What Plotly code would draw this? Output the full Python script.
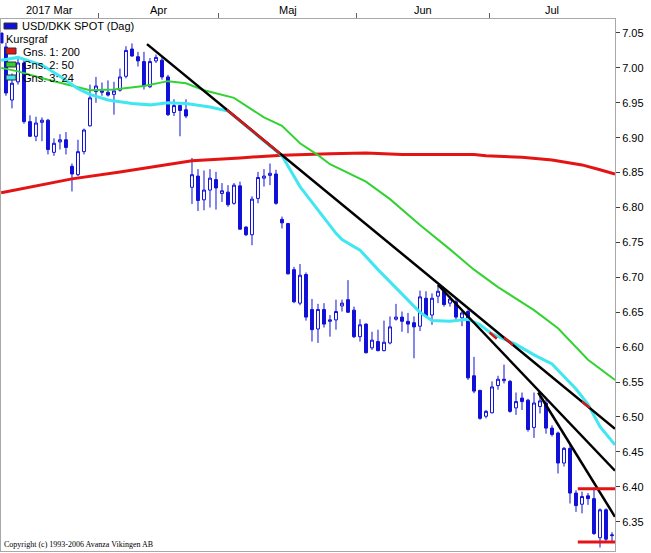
import plotly.graph_objects as go

# daily candles, USD/DKK spot (weekday index 0..101)
opens = [7.030, 6.954, 6.980, 7.007, 6.923, 6.902, 6.922, 6.925, 6.879, 6.894,
         6.897, 6.859, 6.847, 6.880, 6.917, 6.966, 6.965, 6.965, 6.962, 6.968,
         6.988, 7.027, 7.016, 7.009, 6.973, 7.010, 7.011, 6.987, 6.936, 6.946,
         6.940, 6.829, 6.845, 6.811, 6.825, 6.840, 6.820, 6.822, 6.806, 6.831,
         6.772, 6.761, 6.813, 6.842, 6.846, 6.848, 6.783, 6.777, 6.711, 6.663,
         6.704, 6.654, 6.626, 6.654, 6.637, 6.639, 6.659, 6.668, 6.653, 6.615,
         6.633, 6.599, 6.608, 6.595, 6.606, 6.640, 6.643, 6.637, 6.635, 6.630,
         6.670, 6.646, 6.673, 6.680, 6.663, 6.665, 6.642, 6.651, 6.559, 6.538,
         6.501, 6.506, 6.545, 6.552, 6.551, 6.513, 6.527, 6.524, 6.485, 6.515,
         6.520, 6.484, 6.477, 6.434, 6.455, 6.391, 6.375, 6.387, 6.383, 6.327,
         6.367, 6.330]
highs = [7.036, 6.992, 7.014, 7.012, 6.932, 6.930, 6.929, 6.927, 6.899, 6.905,
         6.908, 6.863, 6.897, 6.913, 6.976, 6.987, 6.979, 6.982, 6.980, 6.999,
         7.031, 7.035, 7.023, 7.023, 7.014, 7.019, 7.016, 6.990, 6.955, 6.947,
         6.955, 6.871, 6.855, 6.853, 6.855, 6.851, 6.835, 6.832, 6.835, 6.837,
         6.773, 6.816, 6.851, 6.855, 6.863, 6.854, 6.787, 6.778, 6.715, 6.719,
         6.707, 6.669, 6.662, 6.663, 6.646, 6.668, 6.668, 6.696, 6.658, 6.640,
         6.634, 6.622, 6.625, 6.638, 6.644, 6.662, 6.651, 6.649, 6.644, 6.681,
         6.680, 6.677, 6.689, 6.685, 6.673, 6.670, 6.654, 6.654, 6.586, 6.539,
         6.510, 6.551, 6.559, 6.575, 6.553, 6.535, 6.535, 6.526, 6.535, 6.532,
         6.525, 6.488, 6.479, 6.457, 6.462, 6.395, 6.393, 6.391, 6.399, 6.369,
         6.369, 6.335]
lows = [6.960, 6.942, 6.976, 6.920, 6.901, 6.895, 6.895, 6.876, 6.874, 6.883,
        6.876, 6.823, 6.845, 6.876, 6.916, 6.950, 6.960, 6.959, 6.933, 6.966,
        6.985, 7.016, 7.002, 6.969, 6.971, 7.007, 6.983, 6.931, 6.931, 6.902,
        6.928, 6.805, 6.795, 6.796, 6.800, 6.797, 6.808, 6.801, 6.804, 6.768,
        6.759, 6.746, 6.806, 6.830, 6.832, 6.804, 6.770, 6.704, 6.663, 6.660,
        6.638, 6.608, 6.606, 6.628, 6.615, 6.625, 6.651, 6.649, 6.613, 6.608,
        6.591, 6.596, 6.594, 6.594, 6.604, 6.638, 6.622, 6.620, 6.584, 6.623,
        6.642, 6.632, 6.663, 6.658, 6.658, 6.637, 6.630, 6.553, 6.534, 6.496,
        6.498, 6.505, 6.539, 6.548, 6.506, 6.503, 6.510, 6.479, 6.470, 6.505,
        6.476, 6.472, 6.419, 6.429, 6.376, 6.364, 6.362, 6.374, 6.331, 6.313,
        6.321, 6.321]
closes = [6.964, 6.978, 7.007, 6.923, 6.902, 6.921, 6.925, 6.883, 6.892, 6.897,
          6.886, 6.848, 6.880, 6.911, 6.957, 6.974, 6.967, 6.961, 6.967, 6.987,
          7.025, 7.017, 7.010, 6.974, 7.009, 7.015, 6.987, 6.933, 6.946, 6.939,
          6.931, 6.847, 6.810, 6.825, 6.842, 6.828, 6.824, 6.804, 6.832, 6.769,
          6.761, 6.812, 6.843, 6.845, 6.849, 6.806, 6.778, 6.705, 6.665, 6.703,
          6.643, 6.625, 6.654, 6.633, 6.639, 6.651, 6.663, 6.650, 6.615, 6.632,
          6.592, 6.610, 6.595, 6.607, 6.629, 6.643, 6.637, 6.633, 6.629, 6.672,
          6.644, 6.670, 6.680, 6.661, 6.669, 6.643, 6.649, 6.556, 6.537, 6.498,
          6.508, 6.543, 6.554, 6.554, 6.508, 6.522, 6.522, 6.482, 6.520, 6.523,
          6.484, 6.475, 6.434, 6.455, 6.391, 6.373, 6.386, 6.383, 6.333, 6.367,
          6.325, 6.331]
days = list(range(len(closes)))

# moving averages (x = day index)
ma200_x = [-0.8, 11, 19, 29, 31, 39, 46, 54, 60, 66, 78, 80, 86, 91, 96, 99, 101.5]
ma200_y = [6.821, 6.841, 6.851, 6.864, 6.867, 6.871, 6.875, 6.877, 6.878, 6.876,
           6.876, 6.874, 6.872, 6.868, 6.861, 6.854, 6.848]
ma50_x = [-0.8, 2, 7, 14, 18, 23, 27, 30, 33, 36, 38, 43, 46, 49, 52, 54, 60, 64,
          69, 74, 78, 82, 88, 92, 97, 101.5]
ma50_y = [7.000, 6.995, 6.983, 6.968, 6.969, 6.974, 6.981, 6.978, 6.968, 6.961,
          6.957, 6.929, 6.917, 6.892, 6.875, 6.862, 6.837, 6.812, 6.775, 6.740,
          6.711, 6.686, 6.653, 6.627, 6.582, 6.553]
ma24_x = [-0.8, 2, 6, 9, 12, 14, 17, 21, 24, 27, 30, 34, 37, 40, 43, 46, 49, 52,
          55, 56, 59, 62, 65, 67, 69, 71, 74, 77, 79, 81, 85, 88, 91, 95, 97, 99, 101.5]
ma24_y = [7.011, 7.015, 7.004, 6.988, 6.970, 6.962, 6.954, 6.949, 6.947, 6.950,
          6.949, 6.944, 6.938, 6.917, 6.896, 6.874, 6.830, 6.797, 6.763, 6.754,
          6.739, 6.711, 6.685, 6.668, 6.650, 6.638, 6.637, 6.640, 6.632, 6.619,
          6.604, 6.589, 6.576, 6.540, 6.518, 6.486, 6.460]

# hand-drawn trend lines (start/end)
trend_x = [[23.5, 101.5], [72, 101.5], [88.7, 101.5]]
trend_y = [[7.034, 6.483], [6.689, 6.423], [6.535, 6.357]]
# horizontal support / resistance
level_x = [95.3, 101.5]
levels = [6.397, 6.321]
# spots where the 24-day average touches a trend line
touch_x = [36.8, 45.7, None, 80.6, 81.8, None, 83.0, 84.5, None, 96.0, 97.3]
touch_y = [6.940, 6.877, None, 6.621, 6.612, None, 6.614, 6.603, None, 6.522, 6.513]

month_names = ["2017 Mar", "Apr", "Maj", "Jun", "Jul"]
month_bounds = [15.5, 35.5, 58.5, 80.5]
y_ticks = [6.35, 6.40, 6.45, 6.50, 6.55, 6.60, 6.65, 6.70, 6.75, 6.80, 6.85,
           6.90, 6.95, 7.00, 7.05]

X_RANGE = [-0.83, 101.5]
BLUE = "#1010d8"

fig = go.Figure()
fig.add_trace(go.Candlestick(
    x=days, open=opens, high=highs, low=lows, close=closes,
    increasing=dict(line=dict(color=BLUE, width=1), fillcolor="white"),
    decreasing=dict(line=dict(color=BLUE, width=1), fillcolor=BLUE),
    whiskerwidth=0, showlegend=False, hoverinfo="skip",
))
fig.add_trace(go.Scatter(x=ma200_x, y=ma200_y, mode="lines",
                         line=dict(color="#e41414", width=3), showlegend=False))
fig.add_trace(go.Scatter(x=ma50_x, y=ma50_y, mode="lines",
                         line=dict(color="#33d233", width=2), showlegend=False))
fig.add_trace(go.Scatter(x=ma24_x, y=ma24_y, mode="lines",
                         line=dict(color="#40e6f0", width=3), showlegend=False))
for tx, ty in zip(trend_x, trend_y):
    fig.add_trace(go.Scatter(x=tx, y=ty, mode="lines",
                             line=dict(color="black", width=2.5), showlegend=False))
for lv in levels:
    fig.add_trace(go.Scatter(x=level_x, y=[lv, lv], mode="lines",
                             line=dict(color="#e41414", width=3), showlegend=False))
fig.add_trace(go.Scatter(x=touch_x, y=touch_y, mode="lines",
                         line=dict(color="#d81818", width=2.5), showlegend=False))

# month labels centred in each visible month
edges = [X_RANGE[0]] + month_bounds + [X_RANGE[1]]
for k, name in enumerate(month_names):
    fig.add_annotation(x=(edges[k] + edges[k + 1]) / 2, y=1, xref="x", yref="paper",
                       text=name, showarrow=False, yanchor="bottom", yshift=1,
                       font=dict(size=11, color="black"))

# legend drawn in the top left corner
W, H = 614, 532
def px(x):
    return (x - 1) / W
def py(y):
    return 1 - (y - 19) / H

legend_rows = [
    ("USD/DKK SPOT (Dag)", BLUE, 26, 20, (4, 17, 23, 29)),
    ("Kursgraf", BLUE, 39, 4, (1, 3, 33, 43)),
    ("Gns. 1: 200", "#e41414", 52, 21, (6, 16, 48, 54)),
    ("Gns. 2: 50", "#33d233", 65, 21, (6, 16, 62, 67)),
    ("Gns. 3: 24", "#40e6f0", 78, 21, (6, 16, 75, 80)),
]
for text, col, yc, xt, (x0, x1, y0, y1) in legend_rows:
    fig.add_shape(type="rect", xref="paper", yref="paper",
                  x0=px(x0), x1=px(x1), y0=py(y1), y1=py(y0),
                  fillcolor=col, line=dict(color="#303030" if x1 - x0 > 4 else col, width=1))
    fig.add_annotation(x=px(xt), y=py(yc), xref="paper", yref="paper", text=text,
                       showarrow=False, xanchor="left", yanchor="middle",
                       font=dict(size=11, color="black"))

fig.add_annotation(x=0, y=0, xref="paper", yref="paper",
                   text="Copyright (c) 1993-2006 Avanza Vikingen AB",
                   showarrow=False, xanchor="left", yanchor="bottom", xshift=1,
                   font=dict(family="Liberation Serif", size=8, color="black"))

fig.update_layout(
    width=651, height=553,
    margin=dict(l=1, r=36, t=19, b=2, autoexpand=False),
    paper_bgcolor="white", plot_bgcolor="white",
    font=dict(family="Liberation Sans", size=11, color="black"),
    showlegend=False,
    xaxis=dict(range=X_RANGE, side="top", tickvals=month_bounds, showticklabels=False,
               ticks="outside", ticklen=5, tickcolor="#606060",
               showline=True, linecolor="#a8a8a8", mirror=True,
               showgrid=False, zeroline=False, rangeslider=dict(visible=False)),
    yaxis=dict(range=[6.308, 7.070], side="right", tickvals=y_ticks,
               ticktext=[f"{v:.2f}" for v in y_ticks],
               ticks="outside", ticklen=4, tickcolor="#404040",
               showline=True, linecolor="#a8a8a8", mirror=True,
               showgrid=False, zeroline=False),
)

fig.write_html("out.html", config={"displayModeBar": False},
               post_script="document.body.style.margin='0';")
